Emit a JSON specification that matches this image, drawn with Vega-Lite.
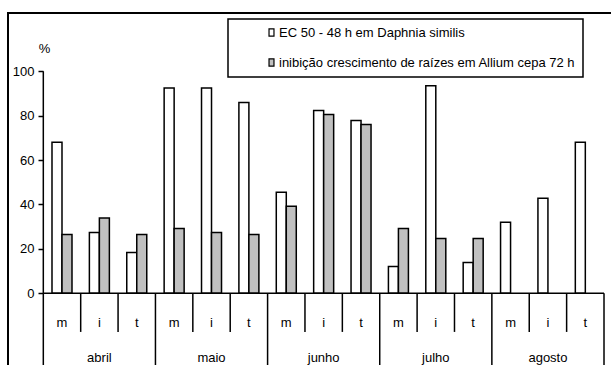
{
  "$schema": "https://vega.github.io/schema/vega-lite/v6.json",
  "autosize": {"type": "none"},
  "padding": {"left": 8, "top": 13, "right": 0, "bottom": 0},
  "width": 605,
  "height": 355,
  "config": {
    "font": "Liberation Sans",
    "view": {"stroke": "black", "strokeWidth": 2},
    "axisX": {"disable": true},
    "axisY": {
      "titleAngle": 0, "titleX": 1, "titleY": 35,
      "titleAlign": "center", "titleBaseline": "middle",
      "titleFontSize": 13, "titleFontWeight": "normal", "titleColor": "black",
      "offset": -35, "domain": false, "grid": false,
      "tickSize": 5, "tickWidth": 1.5, "tickColor": "black",
      "labelFontSize": 13, "labelColor": "black", "labelPadding": 4
    }
  },
  "data": {
    "values": [
      {"month": "abril", "period": "m", "series": "EC 50 - 48 h em Daphnia similis", "value": 68.0},
      {"month": "abril", "period": "i", "series": "EC 50 - 48 h em Daphnia similis", "value": 27.4},
      {"month": "abril", "period": "t", "series": "EC 50 - 48 h em Daphnia similis", "value": 18.4},
      {"month": "maio", "period": "m", "series": "EC 50 - 48 h em Daphnia similis", "value": 92.5},
      {"month": "maio", "period": "i", "series": "EC 50 - 48 h em Daphnia similis", "value": 92.5},
      {"month": "maio", "period": "t", "series": "EC 50 - 48 h em Daphnia similis", "value": 86.0},
      {"month": "junho", "period": "m", "series": "EC 50 - 48 h em Daphnia similis", "value": 45.5},
      {"month": "junho", "period": "i", "series": "EC 50 - 48 h em Daphnia similis", "value": 82.3},
      {"month": "junho", "period": "t", "series": "EC 50 - 48 h em Daphnia similis", "value": 77.8},
      {"month": "julho", "period": "m", "series": "EC 50 - 48 h em Daphnia similis", "value": 12.1},
      {"month": "julho", "period": "i", "series": "EC 50 - 48 h em Daphnia similis", "value": 93.5},
      {"month": "julho", "period": "t", "series": "EC 50 - 48 h em Daphnia similis", "value": 13.9},
      {"month": "agosto", "period": "m", "series": "EC 50 - 48 h em Daphnia similis", "value": 32.0},
      {"month": "agosto", "period": "i", "series": "EC 50 - 48 h em Daphnia similis", "value": 42.8},
      {"month": "agosto", "period": "t", "series": "EC 50 - 48 h em Daphnia similis", "value": 68.0},
      {"month": "abril", "period": "m", "series": "inibição crescimento de raízes em Allium cepa 72 h", "value": 26.5},
      {"month": "abril", "period": "i", "series": "inibição crescimento de raízes em Allium cepa 72 h", "value": 33.9},
      {"month": "abril", "period": "t", "series": "inibição crescimento de raízes em Allium cepa 72 h", "value": 26.5},
      {"month": "maio", "period": "m", "series": "inibição crescimento de raízes em Allium cepa 72 h", "value": 29.2},
      {"month": "maio", "period": "i", "series": "inibição crescimento de raízes em Allium cepa 72 h", "value": 27.4},
      {"month": "maio", "period": "t", "series": "inibição crescimento de raízes em Allium cepa 72 h", "value": 26.5},
      {"month": "junho", "period": "m", "series": "inibição crescimento de raízes em Allium cepa 72 h", "value": 39.2},
      {"month": "junho", "period": "i", "series": "inibição crescimento de raízes em Allium cepa 72 h", "value": 80.5},
      {"month": "junho", "period": "t", "series": "inibição crescimento de raízes em Allium cepa 72 h", "value": 76.0},
      {"month": "julho", "period": "m", "series": "inibição crescimento de raízes em Allium cepa 72 h", "value": 29.2},
      {"month": "julho", "period": "i", "series": "inibição crescimento de raízes em Allium cepa 72 h", "value": 24.7},
      {"month": "julho", "period": "t", "series": "inibição crescimento de raízes em Allium cepa 72 h", "value": 24.7}
    ]
  },
  "transform": [
    {"calculate": "datum.month + ' ' + datum.period", "as": "slot"}
  ],
  "layer": [
    {
      "mark": {"type": "bar", "stroke": "black", "strokeWidth": 1.5},
      "encoding": {
        "x": {
          "field": "slot", "type": "nominal",
          "scale": {
            "domain": ["abril m", "abril i", "abril t", "maio m", "maio i", "maio t", "junho m", "junho i", "junho t", "julho m", "julho i", "julho t", "agosto m", "agosto i", "agosto t"],
            "paddingInner": 0, "paddingOuter": 0.5926, "align": 0.797
          }
        },
        "xOffset": {
          "field": "series", "type": "nominal",
          "scale": {
            "domain": ["EC 50 - 48 h em Daphnia similis", "inibição crescimento de raízes em Allium cepa 72 h"],
            "paddingInner": 0, "paddingOuter": 0.869
          }
        },
        "y": {
          "field": "value", "type": "quantitative",
          "scale": {"domain": [-33.65, 126.26], "nice": false, "zero": false},
          "axis": {"title": "%", "values": [0, 20, 40, 60, 80, 100]}
        },
        "fill": {
          "field": "series", "type": "nominal",
          "scale": {
            "domain": ["EC 50 - 48 h em Daphnia similis", "inibição crescimento de raízes em Allium cepa 72 h"],
            "range": ["white", "#c0c0c0"]
          },
          "legend": {
            "orient": "none", "legendX": 220, "legendY": 6,
            "title": null, "strokeColor": "black", "padding": 7,
            "rowPadding": 16, "symbolOffset": 30,
            "symbolType": "M-0.55,-0.8H0.55V0.8H-0.55Z", "symbolSize": 81,
            "symbolStrokeColor": "black", "symbolStrokeWidth": 1.2,
            "labelFontSize": 13, "labelColor": "black", "labelOffset": 1, "labelLimit": 400,
            "encode": {
              "legend": {"update": {"strokeWidth": {"value": 1.5}}}
            }
          }
        }
      }
    },
    {
      "data": {"values": [{}]},
      "mark": {"type": "rule", "stroke": "black", "strokeWidth": 1.5},
      "encoding": {
        "x": {"datum": "abril m", "type": "nominal", "bandPosition": 0},
        "y": {"datum": 100, "type": "quantitative"},
        "y2": {"datum": 0}
      }
    },
    {
      "data": {"values": [{}]},
      "mark": {"type": "rule", "stroke": "black", "strokeWidth": 1.5},
      "encoding": {
        "x": {"datum": "abril m", "type": "nominal", "bandPosition": 0},
        "x2": {"datum": "agosto t", "bandPosition": 1},
        "y": {"datum": 0, "type": "quantitative"}
      }
    },
    {
      "transform": [{"filter": "datum.period !== 'm' && datum.series === 'EC 50 - 48 h em Daphnia similis'"}],
      "mark": {"type": "rule", "stroke": "black", "strokeWidth": 1.5},
      "encoding": {
        "x": {"field": "slot", "type": "nominal", "bandPosition": 0},
        "y": {"datum": 0, "type": "quantitative"},
        "y2": {"datum": -17.4}
      }
    },
    {
      "transform": [{"filter": "datum.period === 'm' && datum.series === 'EC 50 - 48 h em Daphnia similis'"}],
      "mark": {"type": "rule", "stroke": "black", "strokeWidth": 1.5},
      "encoding": {
        "x": {"field": "slot", "type": "nominal", "bandPosition": 0},
        "y": {"datum": 0, "type": "quantitative"},
        "y2": {"datum": -33.65}
      }
    },
    {
      "data": {"values": [{}]},
      "mark": {"type": "rule", "stroke": "black", "strokeWidth": 1.5},
      "encoding": {
        "x": {"datum": "agosto t", "type": "nominal", "bandPosition": 1},
        "y": {"datum": 0, "type": "quantitative"},
        "y2": {"datum": -33.65}
      }
    },
    {
      "transform": [{"filter": "datum.series === 'EC 50 - 48 h em Daphnia similis'"}],
      "mark": {"type": "text", "fontSize": 13, "fill": "black", "baseline": "alphabetic", "align": "center"},
      "encoding": {
        "x": {"field": "slot", "type": "nominal"},
        "y": {"datum": -15.2, "type": "quantitative"},
        "text": {"field": "period"}
      }
    },
    {
      "transform": [{"filter": "datum.period === 'i' && datum.series === 'EC 50 - 48 h em Daphnia similis'"}],
      "mark": {"type": "text", "fontSize": 13, "fill": "black", "baseline": "alphabetic", "align": "center"},
      "encoding": {
        "x": {"field": "slot", "type": "nominal"},
        "y": {"datum": -30.9, "type": "quantitative"},
        "text": {"field": "month"}
      }
    }
  ]
}
